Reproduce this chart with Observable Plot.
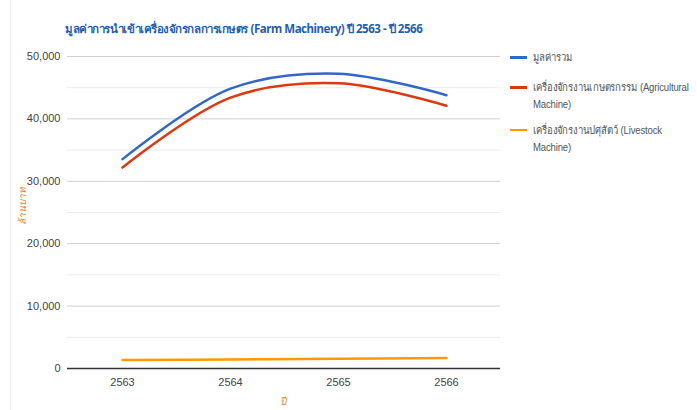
<!DOCTYPE html>
<html><head><meta charset="utf-8">
<script src="https://cdn.jsdelivr.net/npm/d3@7"></script>
<script src="https://cdn.jsdelivr.net/npm/@observablehq/plot@0.6"></script>
<style>
body{margin:0;background:#fff;font-family:"Noto Sans",Roboto,sans-serif;}
#wrap{position:relative;width:697px;height:410px;overflow:hidden;}
#chart{position:absolute;left:0;top:0;}
.ov{position:absolute;white-space:nowrap;}
#title{left:65px;top:20px;font-size:11.5px;font-weight:bold;color:#1f5fae;letter-spacing:-0.45px;}
.leg{font-family:"Liberation Sans","Noto Sans",sans-serif;font-size:11px;color:#555;line-height:17px;letter-spacing:-0.2px;transform:scaleX(0.87);transform-origin:left top;}
.sw{position:absolute;width:17px;height:3px;}
#ylab{left:2px;top:198px;transform:rotate(-90deg);transform-origin:center;font-size:10px;color:#e8812f;font-style:italic;width:40px;text-align:center;}
#xlab{left:280px;top:394px;font-size:10px;color:#e8812f;font-style:italic;}
#border{position:absolute;left:10px;top:0;width:1px;height:410px;background:#eee;}
</style></head>
<body>
<div id="wrap">
<div id="border"></div>
<div id="chart"></div>
<div class="ov" id="title">มูลค่าการนำเข้าเครื่องจักรกลการเกษตร (Farm Machinery) ปี 2563 - ปี 2566</div>
<div class="ov" id="ylab">ล้านบาท</div>
<div class="ov" id="xlab">ปี</div>
<div id="legend"></div>
</div>
<script>
const years = [2563, 2564, 2565, 2566];
const seriesNames = ["มูลค่ารวม", "เครื่องจักรงานเกษตรกรรม (Agricultural Machine)", "เครื่องจักรงานปศุสัตว์ (Livestock Machine)"];
const legendLines = [["มูลค่ารวม"], ["เครื่องจักรงานเกษตรกรรม (Agricultural", "Machine)"], ["เครื่องจักรงานปศุสัตว์ (Livestock", "Machine)"]];
const totalValues = [33550, 44850, 47250, 43800];
const agriValues = [32200, 43400, 45700, 42100];
const livestockValues = [1350, 1450, 1550, 1700];
const colors = ["#3366cc", "#dc3912", "#ff9900"];
const yTicks = [0, 10000, 20000, 30000, 40000, 50000];
const yMinor = [5000, 15000, 25000, 35000, 45000];

const allValues = [totalValues, agriValues, livestockValues];
const rows = [];
allValues.forEach((vals, si) => vals.forEach((v, i) => rows.push({year: years[i], value: v, series: seriesNames[si]})));

const chart = Plot.plot({
  width: 697, height: 410,
  marginLeft: 67, marginRight: 197, marginTop: 56, marginBottom: 42,
  style: {fontFamily: "'Liberation Sans', Arial, sans-serif", fontSize: "11px", color: "#444", background: "transparent"},
  x: {type: "point", domain: years, padding: 0.5, label: null, tickSize: 0, tickPadding: 10, tickFormat: d => String(d)},
  y: {domain: [0, 50000], label: null, ticks: yTicks, tickFormat: d3.format(","), tickSize: 0, tickPadding: 7},
  color: {domain: seriesNames, range: colors},
  marks: [
    Plot.ruleY(yMinor, {stroke: "#ececec", strokeWidth: 1}),
    Plot.ruleY(yTicks.filter(d => d > 0), {stroke: "#d0d0d0", strokeWidth: 1}),
    Plot.ruleY([0], {stroke: "#333", strokeWidth: 1.5}),
    Plot.line(rows, {x: "year", y: "value", stroke: "series", z: "series", strokeWidth: 2.5, curve: "catmull-rom"})
  ]
});
document.getElementById("chart").appendChild(chart);

const leg = document.getElementById("legend");
const legTops = [49, 79, 122];
legendLines.forEach((lines, i) => {
  const sw = document.createElement("div");
  sw.className = "sw";
  sw.style.left = "510px";
  sw.style.top = (legTops[i] + 7) + "px";
  sw.style.height = i === 2 ? "2px" : "3px";
  sw.style.background = colors[i];
  leg.appendChild(sw);
  const t = document.createElement("div");
  t.className = "ov leg";
  t.style.left = "533px";
  t.style.top = legTops[i] + "px";
  t.innerHTML = lines.join("<br>");
  leg.appendChild(t);
});
</script>
</body></html>
